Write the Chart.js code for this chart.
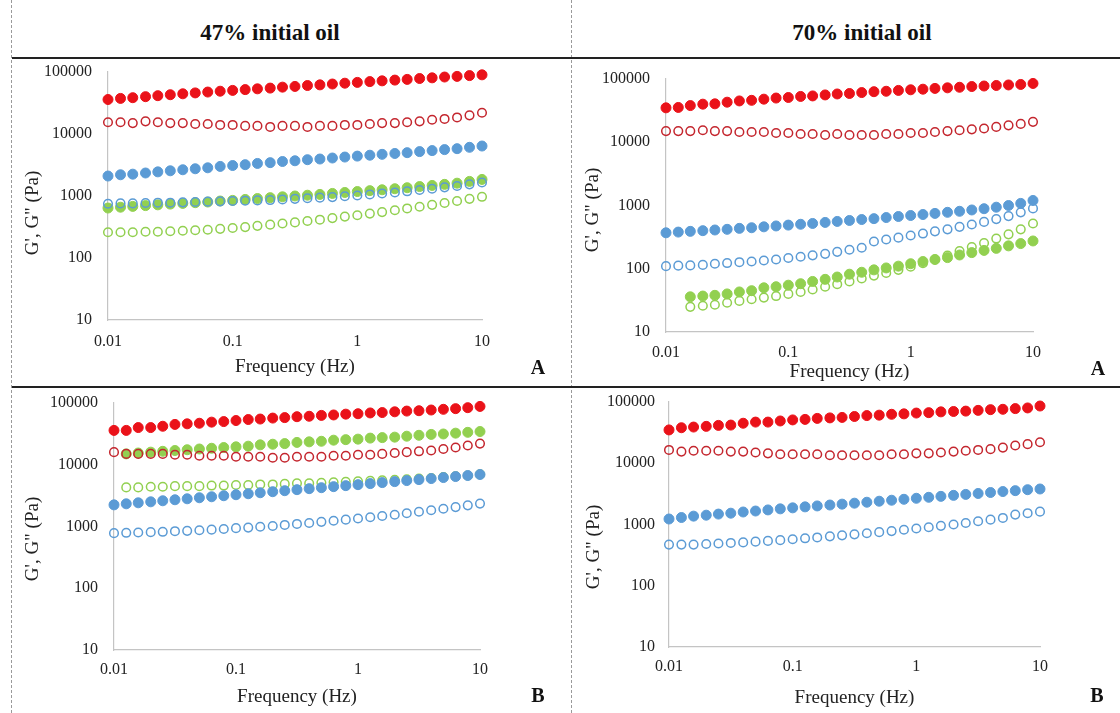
<!DOCTYPE html>
<html>
<head>
<meta charset="utf-8">
<script src="https://cdn.jsdelivr.net/npm/chart.js@4.4.1/dist/chart.umd.min.js"></script>
<style>
  html,body{margin:0;padding:0;background:#fff;}
  #fig{position:relative;width:1120px;height:713px;overflow:hidden;background:#fff;font-family:"Liberation Serif","Times New Roman",serif;color:#111;}
  canvas{position:absolute;}
  .hdr{position:absolute;font-weight:bold;font-size:23px;transform:translate(-50%,-50%);white-space:nowrap;}
  .let{position:absolute;font-weight:bold;font-size:20px;transform:translate(-50%,-50%);}
  .ytl{position:absolute;font-size:19px;transform:translate(-50%,-50%) rotate(-90deg);white-space:nowrap;color:#222;}
  .hl{position:absolute;left:12px;width:1108px;height:0;border-top:2px solid #222;}
  .vl{position:absolute;top:0;height:713px;width:0;border-left:1px dashed #9a9a9a;}
</style>
</head>
<body>
<div id="fig">
  <div class="vl" style="left:11px"></div>
  <div class="vl" style="left:571px"></div>
  <div class="hl" style="top:57px"></div>
  <div class="hl" style="top:386px"></div>
  <div class="hdr" style="left:270px;top:33px">47% initial oil</div>
  <div class="hdr" style="left:862px;top:33px">70% initial oil</div>
  <canvas id="c1" width="559" height="327" style="left:12px;top:59px;width:559px;height:327px"></canvas>
  <canvas id="c2" width="548" height="327" style="left:572px;top:59px;width:548px;height:327px"></canvas>
  <canvas id="c3" width="559" height="325" style="left:12px;top:388px;width:559px;height:325px"></canvas>
  <canvas id="c4" width="548" height="325" style="left:572px;top:388px;width:548px;height:325px"></canvas>
  <div class="ytl" style="left:32px;top:213px">G', G" (Pa)</div>
  <div class="ytl" style="left:592px;top:210px">G', G" (Pa)</div>
  <div class="ytl" style="left:32px;top:539px">G', G" (Pa)</div>
  <div class="ytl" style="left:593px;top:547px">G', G" (Pa)</div>
  <div class="let" style="left:538px;top:367px">A</div>
  <div class="let" style="left:1098px;top:368px">A</div>
  <div class="let" style="left:538px;top:695px">B</div>
  <div class="let" style="left:1097px;top:695px">B</div>
</div>
<script>
// ---- Data ----
const freq = [0.01, 0.0126, 0.0158, 0.02, 0.0251, 0.0316, 0.0398, 0.0501, 0.0631, 0.0794,
              0.1, 0.126, 0.158, 0.2, 0.251, 0.316, 0.398, 0.501, 0.631, 0.794,
              1, 1.26, 1.58, 2, 2.51, 3.16, 3.98, 5.01, 6.31, 7.94, 10];
const xTickValues = [0.01, 0.1, 1, 10];
const xTickLabels = ['0.01', '0.1', '1', '10'];
const yTickValues = [10, 100, 1000, 10000, 100000];
const yTickLabels = ['10', '100', '1000', '10000', '100000'];

// Panel A, 47% initial oil
const p1RedG1 = [36000,37500,38500,40000,41500,43000,44500,46000,47500,49000,50500,52000,53500,55000,57000,58500,60500,62000,64000,66000,68000,70000,72000,74000,76000,78500,80500,83000,85000,87500,90000];
const p1RedG2 = [15500,15500,15000,16000,15500,15000,15000,14500,14500,14000,14000,13500,13500,13000,13500,13500,13000,13500,13500,14000,14000,14500,15000,15000,15500,16000,17000,17500,18500,20000,22000];
const p1BlueG1 = [2100,2200,2250,2350,2450,2550,2650,2750,2850,3000,3100,3200,3350,3450,3600,3700,3850,3950,4100,4250,4400,4550,4700,4850,5000,5200,5400,5600,5800,6100,6400];
const p1BlueG2 = [750,760,760,770,780,780,790,800,810,820,830,840,850,860,880,900,920,940,960,990,1020,1060,1100,1140,1190,1250,1310,1380,1450,1540,1650];
const p1GreenG1 = [640,660,680,700,720,740,760,780,800,830,850,880,910,940,970,1000,1030,1060,1100,1140,1180,1220,1260,1310,1360,1420,1480,1540,1610,1720,1850];
const p1GreenG2 = [260,260,260,265,265,270,275,280,285,295,305,315,330,345,360,375,395,415,440,465,490,520,550,590,630,670,720,770,830,900,970];

// Panel A, 70% initial oil
const p2RedG1 = [35000,35500,38000,40000,40500,43000,45000,46000,48000,50000,51000,53000,54000,56000,58000,59000,61000,63000,64000,66000,67500,69000,71000,72500,74000,76000,77500,79000,80500,82000,85000];
const p2RedG2 = [15000,15000,15000,15500,15000,15000,14500,14500,14500,14000,14000,13500,13500,13000,13500,13000,13000,13000,13500,13500,14000,14000,14500,15000,15500,16000,16500,17500,18500,19500,21000];
const p2BlueG1 = [370,380,390,400,410,420,435,445,460,475,490,505,520,540,560,580,600,620,645,670,695,720,750,780,810,850,890,940,1000,1080,1200];
const p2BlueG2 = [110,112,113,115,120,123,127,130,135,140,148,155,163,172,185,200,215,270,290,310,335,360,390,420,460,500,550,610,680,780,900];
const p2GreenG1 = [null,null,36,37,38,40,43,45,50,52,55,58,63,68,74,82,88,96,103,110,120,130,140,150,165,180,195,210,230,250,275];
const p2GreenG2 = [null,null,25,26,27,29,31,33,35,37,40,43,47,52,57,63,70,78,86,96,108,122,140,162,190,220,255,300,350,420,520];

// Panel B, 47% initial oil
const p3RedG1 = [36000,36000,40000,40000,42000,45000,46000,47000,49000,50000,52000,54000,55000,57000,58000,60000,61000,63000,64000,66000,67000,69000,70000,72000,74000,75000,77000,79000,81000,84000,88000];
const p3RedG2 = [16000,15000,15000,15000,15000,14500,14500,14000,14000,14000,13500,13500,13500,13000,13000,13500,13500,13500,14000,14000,14500,14500,15000,15500,16000,16500,17000,18000,19000,20500,22000];
const p3BlueG1 = [2240,2330,2420,2510,2610,2710,2810,2920,3030,3150,3270,3390,3520,3660,3800,3950,4100,4250,4420,4590,4760,4950,5140,5330,5540,5750,5970,6200,6440,6690,6950];
const p3BlueG2 = [780,790,800,810,820,840,850,870,890,910,940,960,990,1020,1060,1100,1140,1190,1240,1290,1350,1410,1480,1550,1640,1730,1830,1940,2060,2200,2350];
const p3GreenG1 = [null,15000,15500,16000,16500,17000,17500,18000,18500,19000,19500,20000,21000,21500,22000,23000,23500,24000,25000,25500,26000,27000,27500,28000,29000,30000,31000,31500,32500,33500,34500];
const p3GreenG2 = [null,4300,4300,4400,4400,4500,4500,4500,4600,4600,4700,4700,4800,4800,4900,5000,5000,5100,5200,5300,5400,5500,5600,5700,5800,6000,6100,6300,6500,6700,7000];

// Panel B, 70% initial oil
const p4RedG1 = [35000,38000,39000,40000,41500,42000,45000,47000,47000,49000,51000,52000,54000,55000,56000,58000,60000,61000,63000,64000,66000,67000,69000,70000,71000,73000,75000,76000,78000,80000,86000];
const p4RedG2 = [16500,15500,16000,16000,16000,15500,15500,15000,14500,14000,14000,14000,14000,13500,13500,13500,13500,13500,14000,14000,14500,14500,15000,15500,16000,16500,17000,18000,19500,20500,22000];
const p4BlueG1 = [1230,1300,1370,1420,1480,1530,1600,1660,1730,1800,1870,1940,2010,2080,2150,2230,2310,2400,2490,2580,2680,2780,2880,2990,3100,3210,3330,3450,3570,3700,3800];
const p4BlueG2 = [470,470,470,480,490,500,510,525,540,555,575,595,615,640,665,690,720,750,780,820,860,900,950,1000,1060,1130,1200,1280,1450,1530,1620];

// ---- Styles ----
const FONT = '"Liberation Serif","Times New Roman",serif';
const RED = '#ea1219', RED_O = '#c4262e', BLUE = '#5b9bd5', GREEN = '#92d050';

function pts(vals){ return freq.map((f,i)=>({x:f, y:vals[i]})).filter(p=>p.y!==null); }
function filled(vals, c){ return {data:pts(vals), clip:false, showLine:false, pointRadius:5, pointBorderWidth:1, pointBackgroundColor:c, pointBorderColor:c}; }
function open(vals, c){ return {data:pts(vals), clip:false, showLine:false, pointRadius:4.3, pointBorderWidth:1.5, pointBackgroundColor:'rgba(255,255,255,0)', pointBorderColor:c}; }

function makePanel(id, series, L){
  new Chart(document.getElementById(id), {
    type:'scatter',
    data:{datasets:series},
    options:{
      responsive:false, animation:false, devicePixelRatio:1,
      layout:{padding:{left:0, top:L.top, right:L.right, bottom:0}},
      plugins:{legend:{display:false}, tooltip:{enabled:false}},
      scales:{
        x:{type:'logarithmic', min:0.01, max:10,
           grid:{display:false, drawTicks:true, tickLength:L.xtl}, border:{display:true, color:'#c4c4c4', width:1.2},
           afterBuildTicks:s=>{ s.ticks = xTickValues.map(v=>({value:v})); },
           ticks:{autoSkip:false, maxRotation:0, padding:0, color:'#222', font:{family:FONT,size:16},
                  callback:v=>xTickLabels[xTickValues.indexOf(v)]},
           title:{display:true, text:'Frequency (Hz)', color:'#222', font:{family:FONT,size:19}, padding:{top:0,bottom:L.xtb}},
           afterFit:s=>{ s.height = L.xh; }},
        y:{type:'logarithmic', min:10, max:100000,
           grid:{display:false, drawTicks:true, tickLength:L.ytl}, border:{display:true, color:'#c4c4c4', width:1.2},
           afterBuildTicks:s=>{ s.ticks = yTickValues.map(v=>({value:v})); },
           ticks:{autoSkip:false, padding:0, color:'#222', font:{family:FONT,size:16},
                  callback:v=>yTickLabels[yTickValues.indexOf(v)]},
           afterFit:s=>{ s.width = L.yw; }}
      }
    }
  });
}

makePanel('c1', [filled(p1RedG1,RED), open(p1RedG2,RED_O), filled(p1BlueG1,BLUE), open(p1BlueG2,BLUE), filled(p1GreenG1,GREEN), open(p1GreenG2,GREEN)],
  {top:13, right:89, yw:96, xh:66, xtl:12, xtb:8, ytl:16});
makePanel('c2', [filled(p2RedG1,RED), open(p2RedG2,RED_O), filled(p2BlueG1,BLUE), open(p2BlueG2,BLUE), filled(p2GreenG1,GREEN), open(p2GreenG2,GREEN)],
  {top:20, right:87, yw:94, xh:54, xtl:11, xtb:3, ytl:16});
makePanel('c3', [filled(p3RedG1,RED), open(p3RedG2,RED_O), filled(p3BlueG1,BLUE), open(p3BlueG2,BLUE), filled(p3GreenG1,GREEN), open(p3GreenG2,GREEN)],
  {top:15, right:91, yw:102, xh:63, xtl:10, xtb:5, ytl:16});
makePanel('c4', [filled(p4RedG1,RED), open(p4RedG2,RED_O), filled(p4BlueG1,BLUE), open(p4BlueG2,BLUE)],
  {top:14, right:80, yw:97, xh:66, xtl:10, xtb:4, ytl:14});
</script>
</body>
</html>
